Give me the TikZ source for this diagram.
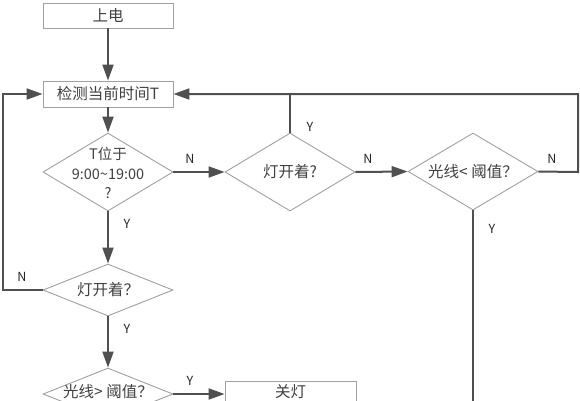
\documentclass[tikz,border=0pt]{standalone}
\usepackage{fontspec}
\setmainfont{Noto Sans CJK SC}
\usetikzlibrary{shapes.geometric,arrows.meta}
\definecolor{lin}{HTML}{505050}
\definecolor{brd}{HTML}{A0A0A0}
\definecolor{txt}{HTML}{404040}
\tikzset{
  boxn/.style={draw=brd,line width=0.9pt,rectangle,minimum width=130pt,minimum height=26pt,inner sep=0pt,text=txt,font=\fontsize{15.5}{17}\selectfont},
  dia/.style={draw=brd,line width=0.9pt,diamond,inner sep=0pt,minimum width=130pt,minimum height=78pt},
  diasm/.style={dia,minimum height=52pt},
  dtext/.style={text=txt,font=\fontsize{15.5}{17}\selectfont,inner sep=0pt,align=center},
  conn/.style={draw=lin,line width=2pt},
  arr/.style={conn,-{Triangle[length=16pt,width=11pt]}},
  lab/.style={text=black!85,font=\fontsize{12.5}{13}\selectfont,inner sep=0pt}
}
\begin{document}
\begin{tikzpicture}[x=1pt,y=-1pt]
\useasboundingbox (0,0) rectangle (580,400);
\clip (0,0) rectangle (580,400);
\node[boxn,minimum height=25pt] (p) at (108,15.5) {上电};
\node[boxn] (t) at (108,94) {检测当前时间T};
\node[dia] (d1) at (108,172) {};
\node[dtext,align=center,font=\fontsize{14.5}{19.5}\selectfont] (d1t) at (108,173) {T位于\\9:00\char`\~19:00\\?};
\node[dia] (d2) at (290,172) {};
\node[dtext] (d2t) at (290,172) {灯开着?};
\node[dia,minimum height=77pt] (d3) at (473,171.5) {};
\node[dtext] (d3t) at (473,172) {光线< 阈值？};
\node[diasm] (d4) at (108,290) {};
\node[dtext] (d4t) at (108,290) {灯开着？};
\node[diasm] (d5) at (108,394) {};
\node[dtext] (d5t) at (108,391.5) {光线> 阈值？};
\node[draw=brd,line width=0.9pt,rectangle,minimum width=131pt,minimum height=26pt,inner sep=0pt] (off) at (290.5,394) {};
\node[dtext] (offt) at (290.5,391.5) {关灯};
\coordinate (d3r) at (578,172);
\coordinate (d4l) at (3,290);
\coordinate (d3b) at (473,420);

\draw[arr] (p.south) -- (t.north);
\draw[arr] (t.south) -- (d1.north);
\draw[arr] (d1.east) -- (d2.west);
\draw[arr] (d2.east) -- (d3.west);
\draw[arr] (d3.east) -- (d3r) |- (t.east);
\draw[conn] (d2.north) -- (d2.north |- t.east);
\draw[conn] (d3.south) -- (d3b);
\draw[arr] (d1.south) -- (d4.north);
\draw[arr] (d4.west) -- (d4l) |- (t.west);
\draw[arr] (d4.south) -- (d5.north);
\draw[arr] (d5.east) -- (off.west);

\node[lab] (l1) at (190,159) {N};
\node[lab] (l2) at (368,159) {N};
\node[lab] (l3) at (552,159) {N};
\node[lab] (l4) at (310,127) {Y};
\node[lab] (l5) at (492,229) {Y};
\node[lab] (l6) at (127,224) {Y};
\node[lab] (l7) at (22,277) {N};
\node[lab] (l8) at (127,329) {Y};
\node[lab] (l9) at (190,381) {Y};
\end{tikzpicture}
\end{document}
